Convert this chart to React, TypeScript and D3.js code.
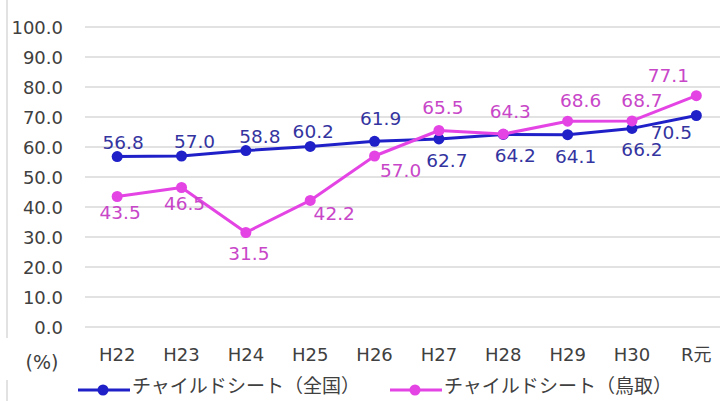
import React from "react";
import * as d3 from "d3";

// Fiscal years (平成22年度 … 令和元年度)
const categories = ["H22", "H23", "H24", "H25", "H26", "H27", "H28", "H29", "H30", "R元"];
// チャイルドシート使用率 (%)
const nationalValues = [56.8, 57.0, 58.8, 60.2, 61.9, 62.7, 64.2, 64.1, 66.2, 70.5];
const tottoriValues = [43.5, 46.5, 31.5, 42.2, 57.0, 65.5, 64.3, 68.6, 68.7, 77.1];
const yTicks = [0, 10, 20, 30, 40, 50, 60, 70, 80, 90, 100];
const seriesNames = ["チャイルドシート（全国）", "チャイルドシート（鳥取）"];

// Label placement per point: [dx, dy] relative to the marker
const nationalLabelOffsets: [number, number][] = [
  [6, -8], [13, -8], [14, -8], [3, -8], [6, -16], [8, 28], [12, 28], [8, 28], [10, 28], [-25, 23],
];
const tottoriLabelOffsets: [number, number][] = [
  [3, 22], [3, 22], [3, 27], [24, 20], [26, 21], [4, -17], [7, -16], [13, -14], [10, -14], [-28, -14],
];

const W = 720;
const H = 401;
const LATIN = "'DejaVu Sans', 'Noto Sans CJK JP', sans-serif";
const CJK = "'Noto Sans CJK JP', sans-serif";
const AXIS_TEXT = "#404040";
const BLUE = "#2020C8";
const BLUE_TEXT = "#3434A0";
const MAGENTA = "#E444E4";
const MAGENTA_TEXT = "#C846C8";

export default function App() {
  const x = d3.scaleBand<string>().domain(categories).range([85, 728.5]);
  const y = d3.scaleLinear().domain([0, 100]).range([327, 27]);
  const cx = (c: string) => (x(c) ?? 0) + x.bandwidth() / 2;

  const line = d3
    .line<number>()
    .x((_, i) => cx(categories[i]))
    .y((v) => y(v));

  const series = [
    { values: nationalValues, color: BLUE, text: BLUE_TEXT, offsets: nationalLabelOffsets },
    { values: tottoriValues, color: MAGENTA, text: MAGENTA_TEXT, offsets: tottoriLabelOffsets },
  ];

  const legend = [
    { x0: 78, color: BLUE, name: seriesNames[0] },
    { x0: 390, color: MAGENTA, name: seriesNames[1] },
  ];

  return (
    <svg
      width={W}
      height={H}
      style={{ position: "absolute", left: 0, top: 0, background: "#fff" }}
      fontFamily={LATIN}
    >
      <rect width={W} height={H} fill="#fff" />
      {/* frame edge on the left */}
      <line x1={7} x2={7} y1={0} y2={338} stroke="#e2e2e2" strokeWidth={2} />
      <line x1={7} x2={7} y1={380} y2={401} stroke="#e2e2e2" strokeWidth={2} />

      {/* gridlines and y tick labels */}
      {yTicks.map((t) => (
        <g key={t}>
          <line x1={85} x2={W} y1={y(t)} y2={y(t)} stroke="#d9d9d9" strokeWidth={1.5} />
          <text x={63} y={y(t) + 1} dy="0.36em" textAnchor="end" fontSize={18} fill={AXIS_TEXT}>
            {t.toFixed(1)}
          </text>
        </g>
      ))}

      {/* x category labels */}
      {categories.map((c) => (
        <text key={c} x={cx(c)} y={355} dy="0.36em" textAnchor="middle" fontSize={18} fill={AXIS_TEXT}>
          {c}
        </text>
      ))}
      <text x={42} y={362} dy="0.36em" textAnchor="middle" fontSize={19} fill={AXIS_TEXT}>
        (%)
      </text>

      {/* series lines and markers */}
      {series.map((s, si) => (
        <g key={si}>
          <path d={line(s.values) ?? ""} fill="none" stroke={s.color} strokeWidth={3} strokeLinejoin="round" />
          {s.values.map((v, i) => (
            <circle key={i} cx={cx(categories[i])} cy={y(v)} r={5.5} fill={s.color} />
          ))}
        </g>
      ))}

      {/* value labels */}
      {series.map((s, si) => (
        <g key={"l" + si}>
          {s.values.map((v, i) => (
            <text
              key={i}
              x={cx(categories[i]) + s.offsets[i][0]}
              y={y(v) + s.offsets[i][1]}
              textAnchor="middle"
              fontSize={18.5}
              fill={s.text}
            >
              {v.toFixed(1)}
            </text>
          ))}
        </g>
      ))}

      {/* legend */}
      {legend.map((l, i) => (
        <g key={i}>
          <line x1={l.x0} x2={l.x0 + 52} y1={390} y2={390} stroke={l.color} strokeWidth={3} />
          <circle cx={l.x0 + 25} cy={390} r={5.5} fill={l.color} />
          <text
            x={l.x0 + 54}
            y={386.5}
            dy="0.36em"
            fontSize={19}
            fontFamily={CJK}
            fill={AXIS_TEXT}
            textLength={228}
            lengthAdjust="spacingAndGlyphs"
          >
            {l.name}
          </text>
        </g>
      ))}
    </svg>
  );
}
